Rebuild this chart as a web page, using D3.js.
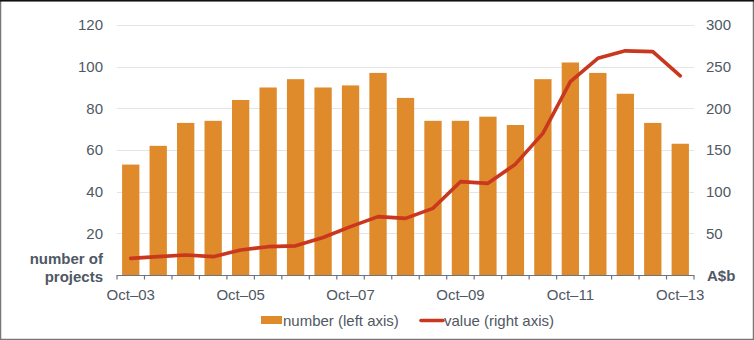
<!DOCTYPE html>
<html><head><meta charset="utf-8">
<script src="https://cdn.jsdelivr.net/npm/d3@7"></script>
<style>
html,body{margin:0;padding:0;background:#fff;}
svg{display:block;font-family:"Liberation Sans",Arial,Helvetica,sans-serif;}
</style></head>
<body><svg id="c" width="754" height="340"></svg>
<script>
const categories = ["Oct-03","Apr-04","Oct-04","Apr-05","Oct-05","Apr-06","Oct-06","Apr-07","Oct-07","Apr-08","Oct-08","Apr-09","Oct-09","Apr-10","Oct-10","Apr-11","Oct-11","Apr-12","Oct-12","Apr-13","Oct-13"];
const tickLabels = {"Oct-03":"Oct–03","Oct-05":"Oct–05","Oct-07":"Oct–07","Oct-09":"Oct–09","Oct-11":"Oct–11","Oct-13":"Oct–13"};
const numberProjects = [53,62,73,74,84,90,94,90,91,97,85,74,74,76,72,94,102,97,87,73,63];
const valueAUDb = [20,22,24,22,30,34,35,45,58,70,68,80,112,110,133,170,232,260,269,268,239];
const leftTicks = [20,40,60,80,100,120];
const rightTicks = [50,100,150,200,250,300];

const svg = d3.select("#c");
const W = 754, H = 340;
const m = {left:117, right:60, top:25, bottom:65};
const x0 = 117, x1 = 694, y0 = 275, y1 = 25;
const textCol = "#4f5864";

svg.append("rect").attr("x",0.5).attr("y",0.5).attr("width",W-1).attr("height",H-1)
  .attr("fill","#fff").attr("stroke","#777").attr("stroke-width",1.5);
svg.append("line").attr("x1",0).attr("x2",W).attr("y1",0.75).attr("y2",0.75).attr("stroke","#111").attr("stroke-width",1.5);

const x = d3.scaleBand().domain(categories).range([x0,x1]).paddingInner(0.37).paddingOuter(0.185);
const xb = d3.scaleBand().domain(categories).range([x0,x1]);
const yL = d3.scaleLinear().domain([0,120]).range([y0,y1]);
const yR = d3.scaleLinear().domain([0,300]).range([y0,y1]);

// gridlines
svg.append("g").selectAll("line").data(leftTicks).join("line")
  .attr("x1",x0).attr("x2",x1).attr("y1",d=>Math.round(yL(d))+0.5).attr("y2",d=>Math.round(yL(d))+0.5)
  .attr("stroke","#e3e5e8").attr("stroke-width",1);

// bars
svg.append("g").selectAll("rect").data(numberProjects).join("rect")
  .attr("x",(d,i)=>x(categories[i])).attr("width",x.bandwidth())
  .attr("y",d=>yL(d)).attr("height",d=>y0-yL(d)).attr("fill","#df8a2b");

// line
const line = d3.line().x((d,i)=>x(categories[i])+x.bandwidth()/2).y(d=>yR(d));
svg.append("path").datum(valueAUDb).attr("d",line).attr("fill","none")
  .attr("stroke","#c9381e").attr("stroke-width",3.6).attr("stroke-linejoin","round").attr("stroke-linecap","round");

// x axis
const gx = svg.append("g");
gx.append("line").attr("x1",x0).attr("x2",x1).attr("y1",y0+0.5).attr("y2",y0+0.5).attr("stroke","#6b7480").attr("stroke-width",1.2);
const tickPos = categories.map(c=>xb(c)).concat([x1]);
gx.selectAll("line.t").data(tickPos).join("line").attr("class","t")
  .attr("x1",d=>d).attr("x2",d=>d).attr("y1",y0).attr("y2",y0+4.5).attr("stroke","#6b7480").attr("stroke-width",1.2);
gx.selectAll("text").data(categories.filter(c=>tickLabels[c])).join("text")
  .attr("x",c=>x(c)+x.bandwidth()/2).attr("y",y0+25).attr("text-anchor","middle")
  .attr("font-size",15).attr("fill",textCol).text(c=>tickLabels[c]);

// left axis labels
const yAxisL = d3.axisLeft(yL).tickValues(leftTicks).tickSize(0).tickPadding(0);
const gl = svg.append("g").attr("transform",`translate(${x0-14},0)`).call(yAxisL);
gl.select(".domain").remove();
gl.selectAll("text").attr("font-size",15).attr("fill",textCol).attr("font-family","Liberation Sans, Arial, sans-serif");

// right axis labels
const yAxisR = d3.axisRight(yR).tickValues(rightTicks).tickSize(0).tickPadding(0);
const gr = svg.append("g").attr("transform",`translate(${x1+12},0)`).call(yAxisR);
gr.select(".domain").remove();
gr.selectAll("text").attr("font-size",15).attr("fill",textCol).attr("font-family","Liberation Sans, Arial, sans-serif");

// axis titles
svg.append("text").attr("x",103).attr("y",264).attr("text-anchor","end").attr("font-size",15).attr("font-weight","bold").attr("fill",textCol).text("number of");
svg.append("text").attr("x",103).attr("y",282).attr("text-anchor","end").attr("font-size",15).attr("font-weight","bold").attr("fill",textCol).text("projects");
svg.append("text").attr("x",707).attr("y",281).attr("text-anchor","start").attr("font-size",15).attr("font-weight","bold").attr("fill",textCol).text("A$b");

// legend
const lg = svg.append("g");
lg.append("rect").attr("x",261).attr("y",316).attr("width",21).attr("height",8).attr("fill","#df8a2b");
lg.append("text").attr("x",283).attr("y",326).attr("font-size",15).attr("fill",textCol).text("number (left axis)");
lg.append("line").attr("x1",421).attr("x2",443).attr("y1",320.5).attr("y2",320.5).attr("stroke","#c9381e").attr("stroke-width",3.6).attr("stroke-linecap","round");
lg.append("text").attr("x",444).attr("y",326).attr("font-size",15).attr("fill",textCol).text("value (right axis)");
</script></body></html>
